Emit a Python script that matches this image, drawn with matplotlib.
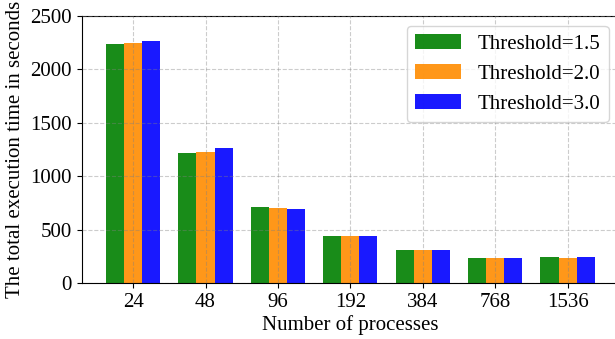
import numpy as np
import matplotlib
matplotlib.use("Agg")
import matplotlib.pyplot as plt

plt.rcParams["font.family"] = ["Liberation Serif", "DejaVu Serif"]

processes = ["24", "48", "96", "192", "384", "768", "1536"]
t_15 = [2233, 1217, 710, 440, 311, 236, 245]
t_20 = [2248, 1227, 702, 440, 311, 236, 240]
t_30 = [2264, 1264, 692, 440, 311, 236, 245]

series = [("Threshold=1.5", t_15, "green"),
          ("Threshold=2.0", t_20, "darkorange"),
          ("Threshold=3.0", t_30, "blue")]

fig = plt.figure(figsize=(6.15, 3.39), dpi=100)
ax = fig.add_axes([0.1328, 0.1643, 0.8737, 0.7894])

x = np.arange(len(processes))
w = 0.25
for i, (lab, vals, col) in enumerate(series):
    ax.bar(x + (i - 1) * w, vals, w, label=lab, color=col, alpha=0.9)

ax.set_xticks(x)
ax.set_xticklabels(processes)
ax.set_xlim(-0.71, len(processes) - 1 + 0.71)
ax.set_ylim(0, 2500)
ax.set_yticks(range(0, 2501, 500))
ax.tick_params(labelsize=15)
ax.set_xlabel("Number of processes", fontsize=15, labelpad=2)
ax.set_ylabel("The total execution time in seconds", fontsize=15)
ax.set_axisbelow(False)
ax.grid(True, linestyle="--", color="gray", alpha=0.4)
ax.legend(loc="upper right", fontsize=15, handlelength=2.2)

fig.savefig("out.png", dpi=100)
